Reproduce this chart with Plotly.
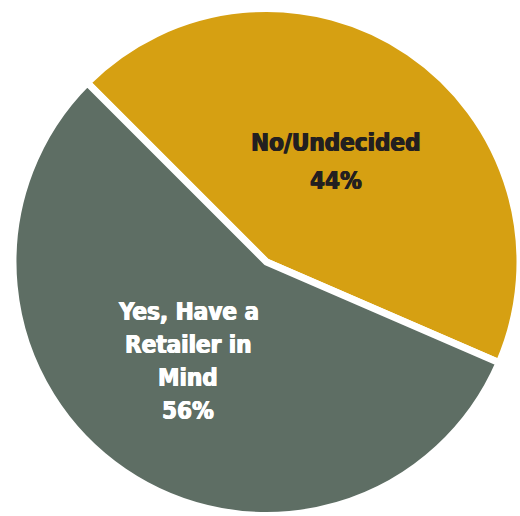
import plotly.graph_objects as go

# Survey split: do shoppers already have a retailer in mind?
labels = ["No/Undecided", "Yes, Have a<br>Retailer in<br>Mind"]
values = [44, 56]
colors = ["#D6A012", "#5E6E64"]
text_colors = ["#231F20", "#FFFFFF"]

W, H = 520, 516

fig = go.Figure(
    go.Pie(
        labels=labels,
        values=values,
        sort=False,
        direction="clockwise",
        rotation=-45,
        marker=dict(colors=colors, line=dict(color="#FFFFFF", width=7)),
        textinfo="none",
        hoverinfo="label+percent",
        showlegend=False,
        domain=dict(x=[13 / W, 1.0], y=[0.0, 1 - 8 / H]),
    )
)

# Slice labels, one annotation per text line
label_centers = [(336, 143, 38), (188, 312, 33)]  # (x px, first-line y px, line step px)
annotations = []
for lab, val, col, (cx, cy, step) in zip(labels, values, text_colors, label_centers):
    lines = lab.split("<br>") + [f"{val}%"]
    for i, line in enumerate(lines):
        annotations.append(
            dict(
                x=cx / W,
                y=1 - (cy + i * step) / H,
                xref="paper",
                yref="paper",
                text=line,
                showarrow=False,
                xanchor="center",
                yanchor="middle",
                font=dict(
                    family="DejaVu Sans Condensed",
                    size=24,
                    color=col,
                    weight="bold",
                    shadow=f"0.6px 0 0 {col}, -0.6px 0 0 {col}",
                ),
            )
        )

fig.update_layout(
    width=W,
    height=H,
    margin=dict(l=0, r=0, t=0, b=0),
    paper_bgcolor="#FFFFFF",
    plot_bgcolor="#FFFFFF",
    annotations=annotations,
)

fig.write_html("out.html")
